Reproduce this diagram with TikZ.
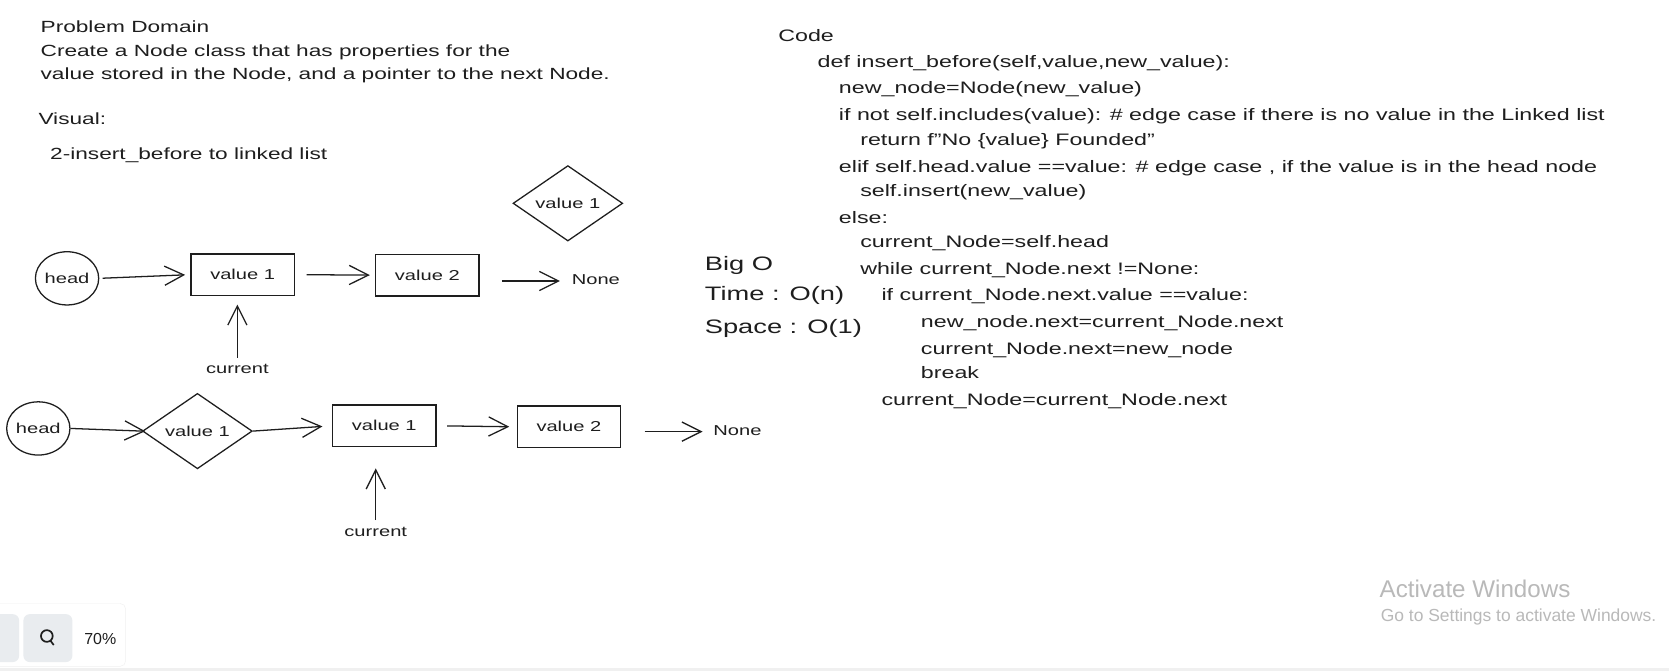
\documentclass[tikz,border=0pt]{standalone}
\usepackage{fontspec}
\setmainfont{Liberation Sans}[FakeStretch=1.4]
\newfontfamily\winfont{Liberation Sans}
\usetikzlibrary{shapes.geometric,arrows.meta}
\definecolor{ink}{HTML}{1E1E1E}
\definecolor{btngray}{HTML}{E9ECEF}
\newcommand{\handfont}{\fontsize{15.2}{18}\selectfont}
\newcommand{\codefont}{\fontsize{15.6}{18}\selectfont}
\newcommand{\lblfont}{\fontsize{13.5}{16}\selectfont}

\begin{document}
\begin{tikzpicture}[x=1pt,y=-1pt,color=ink,
txt/.style={anchor=west,inner sep=0pt,font=\handfont,text height=11pt,text depth=3.5pt},
code/.style={txt,font=\codefont},
big/.style={txt,font=\fontsize{18.3}{21}\selectfont,text height=13pt,text depth=4pt},
lbl/.style={inner sep=0pt,font=\lblfont,text height=9.5pt,text depth=3pt},
circ/.style={ellipse,draw,line width=1.2pt,minimum width=56pt,minimum height=50pt,inner sep=0pt,font=\lblfont},
box/.style={rectangle,draw,line width=1.2pt,minimum width=97pt,minimum height=39pt,inner sep=0pt,font=\lblfont},
dia/.style={diamond,draw,line width=1.2pt,minimum width=103pt,minimum height=65pt,inner sep=0pt,font=\lblfont},
arr/.style={-{Straight Barb[length=18pt,width=18pt]},line width=1.2pt},
win/.style={anchor=west,inner sep=0pt,text=gray!55,font=\winfont\fontsize{22.7}{26}\selectfont},
]
\fill[white] (0,0) rectangle (1568,630);
\useasboundingbox (0,0) rectangle (1568,630);

% problem text
\node (title) [txt] at (38,27) {Problem Domain};
\node (desc1) [txt] at (38,49) {Create a Node class that has properties for the};
\node (desc2) [txt] at (38,71) {value stored in the Node, and a pointer to the next Node.};
\node (visual) [txt] at (36,113) {Visual:};
\node (task) [txt] at (47,146) {2-insert\_before to linked list};

% first list
\node (head1) [circ] at (63,261.5) {head};
\node (val1) [box] at (228,258) {value 1};
\node (val2) [box] at (401.5,258.5) {value 2};
\node (none1) [lbl,anchor=west] at (537,264) {None};
\node (ins1) [dia] at (533.5,191) {value 1};
\node (cur1) [lbl] at (223,347.5) {current};
\draw[arr,shorten <=3pt,shorten >=5pt] (head1.east) -- (val1.west);
\draw[arr,shorten <=11pt,shorten >=5pt] (val1.east) -- (val2.west);
\draw[arr,shorten <=21pt,shorten >=11pt] (val2.east |- none1.west) -- (none1.west);
\draw[arr,shorten <=5pt,shorten >=8pt] (cur1.north) -- (cur1.north |- val1.south);

% second list
\node (head2) [circ] at (36,402.5) {head};
\node (ins2) [dia] at (185.5,405) {value 1};
\node (val1b) [box] at (361,400) {value 1};
\node (val2b) [box] at (534.5,401) {value 2};
\node (none2) [lbl,anchor=west] at (670,405.5) {None};
\node (cur2) [lbl] at (353,501) {current};
\draw[arr,shorten >=-3pt] (head2.east) -- (ins2.west);
\draw[arr,shorten >=9pt] (ins2.east) -- (val1b.west);
\draw[arr,shorten <=10pt,shorten >=7pt] (val1b.east) -- (val2b.west);
\draw[arr,shorten <=22pt,shorten >=10pt] (val2b.east |- none2.west) -- (none2.west);
\draw[arr,shorten <=6pt,shorten >=20pt] (cur2.north) -- (cur2.north |- val1b.south);

% big o
\node (bigo) [big] at (662,250) {Big O};
\node (time) [big] at (662,278) {Time : O(n)};
\node (space) [big] at (662,309) {Space : O(1)};

% code
\node (codehd) [code] at (731,35) {Code};
\node (c1) [code] at (768,60) {def insert\_before(self,value,new\_value):};
\node (c2) [code] at (788,84) {new\_node=Node(new\_value)};
\node (c3) [code] at (788,109) {if not self.includes(value): \# edge case if there is no value in the Linked list};
\node (c4) [code] at (808,133) {return f\symbol{34}No \{value\} Founded\symbol{34}};
\node (c5) [code] at (788,158) {elif self.head.value ==value: \# edge case , if the value is in the head node};
\node (c6) [code] at (808,181) {self.insert(new\_value)};
\node (c7) [code] at (788,206) {else:};
\node (c8) [code] at (808,229) {current\_Node=self.head};
\node (c9) [code] at (808,254) {while current\_Node.next !=None:};
\node (c10) [code] at (828,279) {if current\_Node.next.value ==value:};
\node (c11) [code] at (865,304) {new\_node.next=current\_Node.next};
\node (c12) [code] at (865,329) {current\_Node.next=new\_node};
\node (c13) [code] at (865,352) {break};
\node (c14) [code] at (828,377) {current\_Node=current\_Node.next};

% screen bits
\node (winA) [win] at (1296,553) {Activate Windows};
\node (winB) [win,font=\winfont\fontsize{16.4}{19}\selectfont] at (1297,580) {Go to Settings to activate Windows.};
\fill[gray!12] (0,628) rectangle (1568,630);
\draw[gray!12,fill=white,rounded corners=5pt] (-10,567) rectangle (118,626);
\fill[btngray,rounded corners=6pt] (-20,577) rectangle (18,622);
\fill[btngray,rounded corners=6pt] (22,577) rectangle (68,622);
\draw[line width=1.6pt] (44,597.5) circle (5.5);
\draw[line width=1.6pt] (47.5,602) -- (50.5,606);
\node (zoom) [anchor=west,inner sep=0pt,font=\winfont\fontsize{15}{18}\selectfont] at (79,600) {70\%};
\end{tikzpicture}
\end{document}
